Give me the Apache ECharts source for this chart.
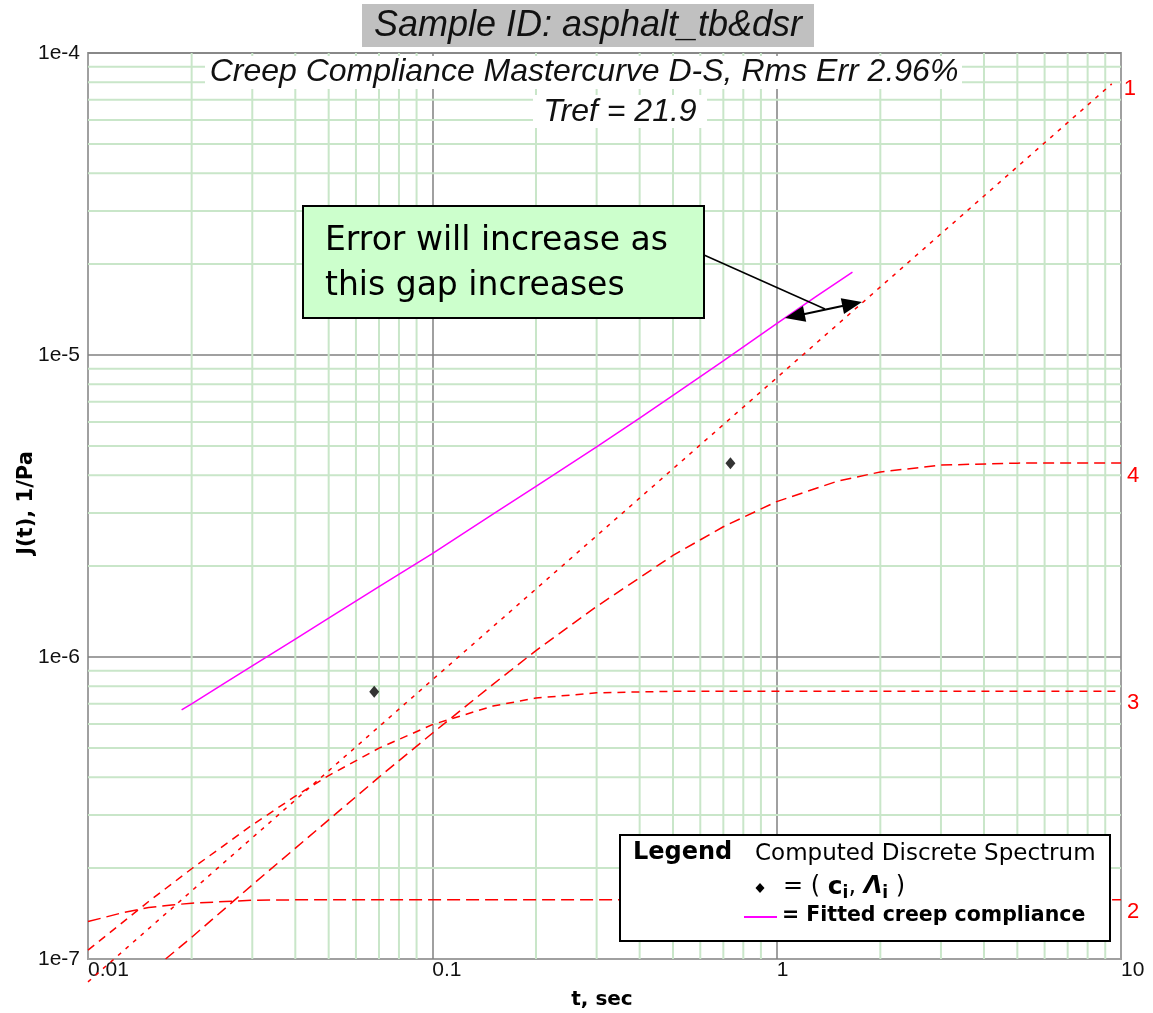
<!DOCTYPE html>
<html><head><meta charset="utf-8">
<script src="https://cdn.jsdelivr.net/npm/echarts@6/dist/echarts.min.js"></script>
<style>html,body{margin:0;padding:0;background:#fff}#c{width:1153px;height:1013px}</style>
</head><body><div id="c"></div>
<script>
// ---- tick labels ----
const xTickValues = [0.01, 0.1, 1, 10];
const xTickLabels = ['0.01', '0.1', '1', '10'];
const yTickValues = [1e-7, 1e-6, 1e-5, 1e-4];
const yTickLabels = ['1e-7', '1e-6', '1e-5', '1e-4'];

// ---- spectrum components (red dashed) ----
const curveLabels = ['1', '2', '3', '4'];
const c1T = [0.01, 0.03, 0.1, 0.3, 1, 3, 9.4];
const c1J = [8.4e-8, 2.52e-7, 8.4e-7, 2.52e-6, 8.4e-6, 2.52e-5, 7.9e-5];
const c2T = [0.01, 0.0125, 0.015, 0.0175, 0.02, 0.025, 0.03, 0.04, 0.05, 0.1, 1, 10];
const c2J = [1.33e-7, 1.42e-7, 1.48e-7, 1.51e-7, 1.53e-7, 1.55e-7, 1.565e-7, 1.57e-7, 1.57e-7, 1.57e-7, 1.57e-7, 1.57e-7];
const c3T = [0.01, 0.015, 0.02, 0.03, 0.04, 0.05, 0.07, 0.1, 0.15, 0.2, 0.3, 0.5, 1, 10];
const c3J = [1.07e-7, 1.55e-7, 1.99e-7, 2.78e-7, 3.46e-7, 4.05e-7, 4.99e-7, 5.97e-7, 6.88e-7, 7.31e-7, 7.61e-7, 7.7e-7, 7.7e-7, 7.7e-7];
const c4T = [0.0168, 0.02, 0.03, 0.05, 0.07, 0.1, 0.15, 0.2, 0.3, 0.5, 0.7, 1, 1.5, 2, 3, 5, 10];
const c4J = [1.0e-7, 1.18e-7, 1.76e-7, 2.89e-7, 4.0e-7, 5.59e-7, 8.12e-7, 1.05e-6, 1.47e-6, 2.17e-6, 2.70e-6, 3.27e-6, 3.82e-6, 4.10e-6, 4.32e-6, 4.385e-6, 4.39e-6];

// ---- fitted creep compliance (magenta) ----
const fitT = [0.0187, 0.02, 0.025, 0.03, 0.04, 0.05, 0.07, 0.1, 0.15, 0.2, 0.3, 0.4, 0.5, 0.7, 1.0, 1.3, 1.66];
const fitJ = [6.68e-7, 7.0e-7, 8.21e-7, 9.35e-7, 1.147e-6, 1.344e-6, 1.71e-6, 2.20e-6, 2.97e-6, 3.67e-6, 4.96e-6, 6.18e-6, 7.35e-6, 9.56e-6, 1.27e-5, 1.56e-5, 1.88e-5];

// ---- computed discrete spectrum points (c_i, lambda_i) ----
const specT = [0.0678, 0.734];
const specJ = [7.67e-7, 4.38e-6];

const pairs = (t, j) => t.map((v, i) => [v, j[i]]);
function nearestLabel(v, vals, labs) {
  let best = 0, bd = Infinity;
  vals.forEach((x, i) => { const d = Math.abs(Math.log10(v) - Math.log10(x)); if (d < bd) { bd = d; best = i; } });
  return bd < 0.01 ? labs[best] : '';
}

const xMin = xTickValues[0], xMax = xTickValues[xTickValues.length - 1];
const yMin = yTickValues[0], yMax = yTickValues[yTickValues.length - 1];

// minor grid lines (2..9 per decade): [x, y, orientation]
const minorGrid = [];
xTickValues.slice(0, -1).forEach(d => { for (let k = 2; k <= 9; k++) minorGrid.push([+(d * k).toPrecision(3), yMin, 0]); });
yTickValues.slice(0, -1).forEach(d => { for (let k = 2; k <= 9; k++) minorGrid.push([xMin, +(d * k).toPrecision(3), 1]); });

const RED = '#ff0000';
function redCurve(t, j, label, dash, dist, offY, clip) {
  return {
    type: 'line', data: pairs(t, j), symbol: 'none', showSymbol: false, z: 3, clip: clip,
    lineStyle: { color: RED, width: 1.5, type: dash },
    endLabel: { show: true, formatter: label, color: RED, fontSize: 22, fontFamily: 'Liberation Sans',
      distance: dist, offset: [0, offY], align: 'left' },
    silent: true
  };
}

const chart = echarts.init(document.getElementById('c'), null, { renderer: 'canvas' });
chart.setOption({
  animation: false,
  backgroundColor: '#fff',
  grid: { left: 88, right: 32, top: 53, bottom: 54, show: true, borderColor: '#a0a0a0', borderWidth: 2, backgroundColor: '#fff' },
  xAxis: {
    type: 'log', logBase: 10, min: xMin, max: xMax,
    axisLine: { show: false }, axisTick: { show: false },
    axisLabel: { showMinLabel: true, showMaxLabel: true, align: 'left', margin: 1, fontSize: 21, color: '#111', fontFamily: 'Liberation Sans',
      formatter: v => nearestLabel(v, xTickValues, xTickLabels) },
    splitLine: { show: true, showMinLine: false, showMaxLine: false, lineStyle: { color: '#808080', width: 1.5 } }
  },
  yAxis: {
    type: 'log', logBase: 10, min: yMin, max: yMax,
    axisLine: { show: false }, axisTick: { show: false },
    axisLabel: { showMinLabel: true, showMaxLabel: true, margin: 8, fontSize: 21, color: '#111', fontFamily: 'Liberation Sans', padding: [0, 0, 6, 0],
      formatter: v => nearestLabel(v, yTickValues, yTickLabels) },
    splitLine: { show: true, showMinLine: false, showMaxLine: false, lineStyle: { color: '#808080', width: 1.5 } }
  },
  series: [
    { type: 'custom', z: 1, silent: true, data: minorGrid,
      renderItem: function (params, api) {
        const x = api.value(0), y = api.value(1), o = api.value(2);
        const p1 = o === 0 ? api.coord([x, yMin]) : api.coord([xMin, y]);
        const p2 = o === 0 ? api.coord([x, yMax]) : api.coord([xMax, y]);
        return { type: 'line', shape: { x1: p1[0], y1: p1[1], x2: p2[0], y2: p2[1] },
          style: { stroke: '#c9e6c9', lineWidth: 2 } };
      } },
    redCurve(c1T, c1J, curveLabels[0], [4, 6], 12, 5, false),
    redCurve(c2T, c2J, curveLabels[1], [13, 6], 6, 12, true),
    redCurve(c3T, c3J, curveLabels[2], [8, 6], 6, 12, true),
    redCurve(c4T, c4J, curveLabels[3], [11, 6], 6, 13, true),
    { type: 'line', data: pairs(fitT, fitJ), symbol: 'none', showSymbol: false, z: 4, silent: true,
      lineStyle: { color: '#ff00ff', width: 1.5 } },
    { type: 'scatter', data: pairs(specT, specJ), symbol: 'diamond', symbolSize: [10, 12], z: 5, silent: true,
      itemStyle: { color: '#000' } }
  ],
  graphic: [
    // title
    { type: 'rect', z: 20, shape: { x: 362, y: 4, width: 452, height: 43 }, style: { fill: '#c0c0c0' } },
    { type: 'text', z: 21, x: 588, y: 26, style: { text: 'Sample ID: asphalt_tb&dsr', font: 'italic 36px "Liberation Sans"', fill: '#111', align: 'center', verticalAlign: 'middle' } },
    { type: 'rect', z: 20, shape: { x: 205, y: 56, width: 757, height: 33 }, style: { fill: '#fff' } },
    { type: 'text', z: 21, x: 584, y: 72, style: { text: 'Creep Compliance Mastercurve D-S, Rms Err 2.96%', font: 'italic 32px "Liberation Sans"', fill: '#111', align: 'center', verticalAlign: 'middle' } },
    { type: 'rect', z: 20, shape: { x: 533, y: 95, width: 174, height: 33 }, style: { fill: '#fff' } },
    { type: 'text', z: 21, x: 620, y: 112, style: { text: 'Tref = 21.9', font: 'italic 32px "Liberation Sans"', fill: '#111', align: 'center', verticalAlign: 'middle' } },
    // annotation
    { type: 'rect', z: 20, shape: { x: 303, y: 206, width: 401, height: 112 }, style: { fill: '#ccffcc', stroke: '#000', lineWidth: 2 } },
    { type: 'text', z: 21, x: 325, y: 241, style: { text: 'Error will increase as', font: '33px "DejaVu Sans"', fill: '#000', verticalAlign: 'middle' } },
    { type: 'text', z: 21, x: 325, y: 286, style: { text: 'this gap increases', font: '33px "DejaVu Sans"', fill: '#000', verticalAlign: 'middle' } },
    { type: 'polyline', z: 21, shape: { points: [[704, 255], [825, 309]] }, style: { stroke: '#000', lineWidth: 1.5 } },
    { type: 'polyline', z: 21, shape: { points: [[800, 315], [847, 305]] }, style: { stroke: '#000', lineWidth: 2 } },
    { type: 'polygon', z: 21, shape: { points: [[862, 302], [844.0, 313.9], [840.8, 298.2]] }, style: { fill: '#000' } },
    { type: 'polygon', z: 21, shape: { points: [[785, 318], [806.2, 321.8], [803.0, 306.1]] }, style: { fill: '#000' } },
    // legend
    { type: 'rect', z: 20, shape: { x: 620, y: 835, width: 490, height: 106 }, style: { fill: '#fff', stroke: '#000', lineWidth: 2 } },
    { type: 'text', z: 21, x: 633, y: 853, style: { text: 'Legend', font: 'bold 24px "DejaVu Sans"', fill: '#000', verticalAlign: 'middle' } },
    { type: 'text', z: 21, x: 755, y: 854, style: { text: 'Computed Discrete Spectrum', font: '23px "DejaVu Sans"', fill: '#000', verticalAlign: 'middle' } },
    { type: 'polygon', z: 21, shape: { points: [[760, 883], [764.5, 888], [760, 893], [755.5, 888]] }, style: { fill: '#000' } },
    { type: 'text', z: 21, x: 783, y: 887, style: {
        text: '{n|= ( }{b|c}{s|i}{n|, }{bi|Λ}{s|i}{n| )}', verticalAlign: 'middle', fill: '#000',
        rich: {
          n: { fontSize: 24, fontFamily: 'DejaVu Sans', lineHeight: 30, verticalAlign: 'middle' },
          b: { fontSize: 25, fontFamily: 'DejaVu Sans', fontWeight: 'bold', lineHeight: 30, verticalAlign: 'middle' },
          bi: { fontSize: 24, fontFamily: 'DejaVu Sans', fontWeight: 'bold', fontStyle: 'italic', lineHeight: 30, verticalAlign: 'middle' },
          s: { fontSize: 17, fontFamily: 'DejaVu Sans', fontWeight: 'bold', lineHeight: 17, verticalAlign: 'bottom' }
        } } },
    { type: 'polyline', z: 21, shape: { points: [[744, 917], [777, 917]] }, style: { stroke: '#ff00ff', lineWidth: 2 } },
    { type: 'text', z: 21, x: 782, y: 916, style: { text: '= Fitted creep compliance', font: 'bold 20.5px "DejaVu Sans"', fill: '#000', verticalAlign: 'middle' } },
    // axis names
    { type: 'text', z: 21, x: 27, y: 503, rotation: Math.PI / 2, style: { text: 'J(t), 1/Pa', font: 'bold 21px "DejaVu Sans"', fill: '#000', align: 'center', verticalAlign: 'middle' } },
    { type: 'text', z: 21, x: 602, y: 1000, style: { text: 't, sec', font: 'bold 20px "DejaVu Sans"', fill: '#000', align: 'center', verticalAlign: 'middle' } }
  ]
});
</script></body></html>
